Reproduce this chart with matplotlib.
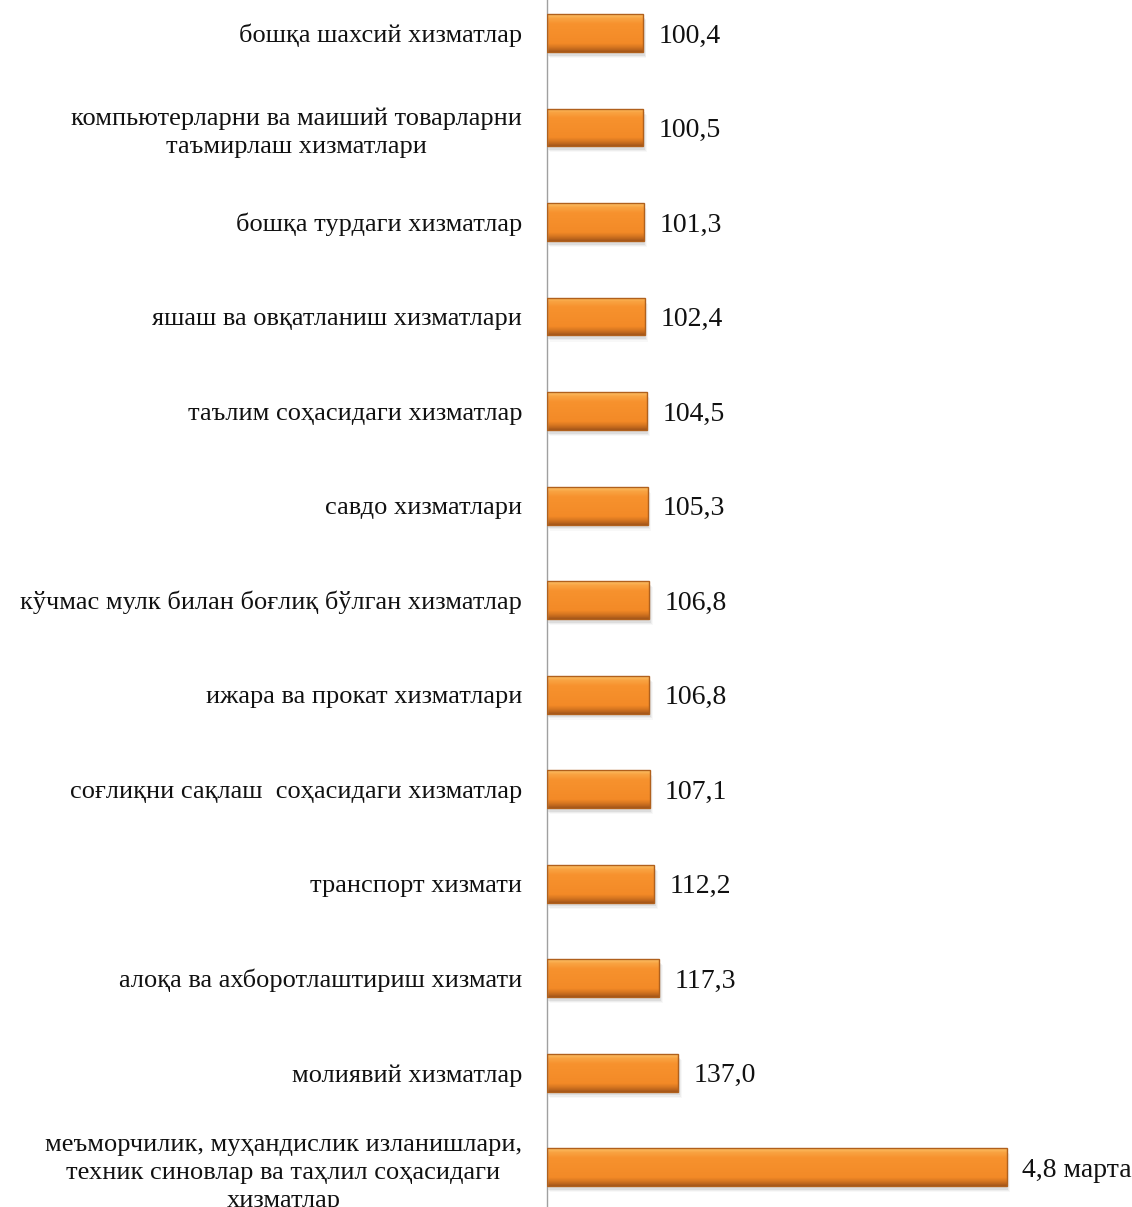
import numpy as np
import matplotlib.pyplot as plt
from matplotlib.colors import LinearSegmentedColormap
from matplotlib.patches import Rectangle

plt.rcParams['font.family'] = ['Liberation Serif', 'DejaVu Serif']

categories = [
    'бошқа шахсий хизматлар',
    'компьютерларни ва маиший товарларни\nтаъмирлаш хизматлари',
    'бошқа турдаги хизматлар',
    'яшаш ва овқатланиш хизматлари',
    'таълим соҳасидаги хизматлар',
    'савдо хизматлари',
    'кўчмас мулк билан боғлиқ бўлган хизматлар',
    'ижара ва прокат хизматлари',
    'соғлиқни сақлаш  соҳасидаги хизматлар',
    'транспорт хизмати',
    'алоқа ва ахборотлаштириш хизмати',
    'молиявий хизматлар',
    'меъморчилик, муҳандислик изланишлари,\nтехник синовлар ва таҳлил соҳасидаги\nхизматлар',
]
values = [100.4, 100.5, 101.3, 102.4, 104.5, 105.3, 106.8, 106.8, 107.1, 112.2, 117.3, 137.0, 480.0]
value_labels = ['100,4', '100,5', '101,3', '102,4', '104,5', '105,3', '106,8', '106,8',
                '107,1', '112,2', '117,3', '137,0', '4,8 марта']

fig = plt.figure(figsize=(11.32, 12.07), dpi=100)
ax = fig.add_axes([547 / 1132, 0, 1 - 547 / 1132, 1])

y = np.arange(len(categories))
h = 0.40
ax.set_xlim(0, 611)
ax.set_ylim(12.42, -0.349)

grad = LinearSegmentedColormap.from_list('bar', [
    (0.0, '#fcc46a'), (0.10, '#f9a443'), (0.25, '#f7922e'),
    (0.78, '#f38a27'), (0.9, '#d0711f'), (1.0, '#a4561a')])
g = np.linspace(0, 1, 64).reshape(-1, 1)

bars = ax.barh(y, values, height=h, color='none', edgecolor='#b0601c', linewidth=1.0, zorder=3)
for rect in bars:
    x0, y0 = rect.get_x(), rect.get_y()
    w, hh = rect.get_width(), rect.get_height()
    # soft shadow
    for k, a in enumerate([0.10, 0.07, 0.04]):
        ax.add_patch(Rectangle((x0 + 1.5 + k, y0 + 0.04 + k * 0.012), w, hh,
                               facecolor='#606060', alpha=a, edgecolor='none', zorder=1))
    im = ax.imshow(g, cmap=grad, aspect='auto', extent=(x0, x0 + w, y0 + hh, y0),
                   interpolation='bilinear', zorder=2)
    im.set_clip_path(rect)

for yi, v, lab in zip(y, values, value_labels):
    ax.annotate(lab, (v, yi), xytext=(11, 0), textcoords='offset points',
                ha='left', va='center_baseline', fontsize=20, color='#111111')

ax.set_yticks(y)
ax.set_yticklabels(categories, fontsize=19, multialignment='center', color='#111111',
                   linespacing=1.35)
ax.tick_params(axis='y', length=0, pad=18)
ax.set_xticks([])
for s in ['top', 'right', 'bottom']:
    ax.spines[s].set_visible(False)
ax.spines['left'].set_color('#a0a0a0')
ax.spines['left'].set_linewidth(1.0)

fig.savefig('out.png', dpi=100)
